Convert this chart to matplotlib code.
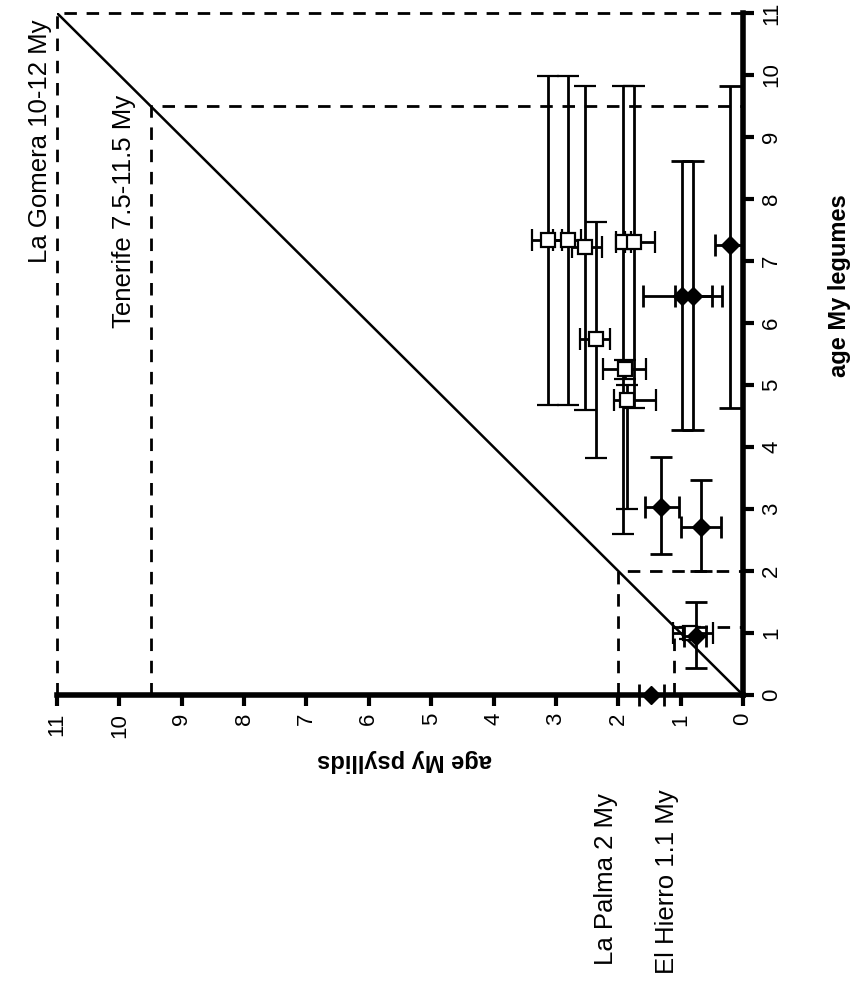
import matplotlib.pyplot as plt

plt.rcParams['font.family'] = ['Liberation Sans', 'DejaVu Sans']

# open squares: psyllid age, legume age, and their ranges (min, max)
sq_psy = [3.13, 2.80, 2.54, 1.92, 1.74, 2.36, 1.89, 1.86, 0.85]
sq_leg = [7.34, 7.34, 7.23, 7.30, 7.30, 5.74, 5.26, 4.76, 1.00]
sq_psy_min = [2.90, 2.60, 2.26, 1.80, 1.41, 2.13, 1.56, 1.40, 0.48]
sq_psy_max = [3.39, 3.05, 2.75, 2.04, 1.90, 2.61, 2.25, 2.07, 1.12]
sq_leg_min = [4.68, 4.68, 4.60, 2.60, 4.63, 3.82, 5.10, 3.00, 0.90]
sq_leg_max = [9.98, 9.98, 9.82, 9.82, 9.82, 7.63, 5.40, 5.00, 1.10]

# filled diamonds
dm_psy = [0.21, 0.98, 0.80, 1.32, 0.67, 0.76, 1.48]
dm_leg = [7.26, 6.44, 6.44, 3.03, 2.71, 0.95, 0.00]
dm_psy_min = [0.00, 0.50, 0.34, 1.03, 0.35, 0.60, 1.26]
dm_psy_max = [0.45, 1.61, 1.09, 1.57, 1.00, 0.95, 1.66]
dm_leg_min = [4.63, 4.27, 4.27, 2.27, 2.00, 0.44, 0.00]
dm_leg_max = [9.82, 8.61, 8.61, 3.84, 3.47, 1.50, 0.00]

# island ages (psyllid = legume)
islands = ['La Gomera 10-12 My', 'Tenerife 7.5-11.5 My', 'La Palma 2 My', 'El Hierro 1.1 My']
island_age = [11.0, 9.5, 2.0, 1.1]

ticks = list(range(0, 12))

fig = plt.figure(figsize=(8.63, 10.01), dpi=100)
ax = fig.add_axes([57 / 863, 1 - 695 / 1001, 686 / 863, 682 / 1001])
ax.set_xlim(11, 0)
ax.set_ylim(0, 11)

# diagonal
ax.plot([0, 11], [0, 11], color='black', lw=1.8, zorder=2)

# island dashed guides
for age in island_age:
    ax.plot([age, age, 0], [0, age, age], color='black', lw=2,
            dashes=(4.5, 3.5), zorder=1, clip_on=False)


def err(v, lo, hi):
    return [[a - b for a, b in zip(v, lo)], [c - a for a, c in zip(v, hi)]]


ax.errorbar(sq_psy, sq_leg, xerr=err(sq_psy, sq_psy_min, sq_psy_max),
            yerr=err(sq_leg, sq_leg_min, sq_leg_max), fmt='s', ms=10,
            mfc='white', mec='black', mew=1.6, ecolor='black', elinewidth=2,
            capsize=8, capthick=2, zorder=4, clip_on=False)
ax.errorbar(dm_psy, dm_leg, xerr=err(dm_psy, dm_psy_min, dm_psy_max),
            yerr=err(dm_leg, dm_leg_min, dm_leg_max), fmt='D', ms=9,
            mfc='black', mec='black', ecolor='black', elinewidth=2,
            capsize=8, capthick=2, zorder=5, clip_on=False)

# axes styling
for s in ['top', 'left']:
    ax.spines[s].set_visible(False)
for s in ['bottom', 'right']:
    ax.spines[s].set_linewidth(4)
ax.yaxis.tick_right()
ax.set_xticks(ticks)
ax.set_yticks(ticks)
ax.tick_params(axis='both', direction='out', length=8, width=3, labelsize=16, pad=5)
for lab in ax.get_xticklabels() + ax.get_yticklabels():
    lab.set_rotation(90)
for lab in ax.get_xticklabels():
    lab.set_va('top')
    lab.set_ha('center')
for lab in ax.get_yticklabels():
    lab.set_va('center')
    lab.set_ha('left')

ax.text(-1.55, 6.6, 'age My legumes', rotation=90, fontsize=17,
        fontweight='bold', ha='center', va='center', clip_on=False)
ax.text(5.43, -1.05, 'age My psyllids', rotation=180, fontsize=17,
        fontweight='bold', ha='center', va='center', clip_on=False)

# island labels
ax.text(11.28, 10.89, islands[0], rotation=90, fontsize=18.5, ha='center', va='top')
ax.text(9.92, 9.68, islands[1], rotation=90, fontsize=18.5, ha='center', va='top')
ax.text(2.2, -1.58, islands[2], rotation=90, fontsize=18.5, ha='center', va='top')
ax.text(1.22, -1.52, islands[3], rotation=90, fontsize=18.5, ha='center', va='top')

fig.savefig('out.png', dpi=100)
